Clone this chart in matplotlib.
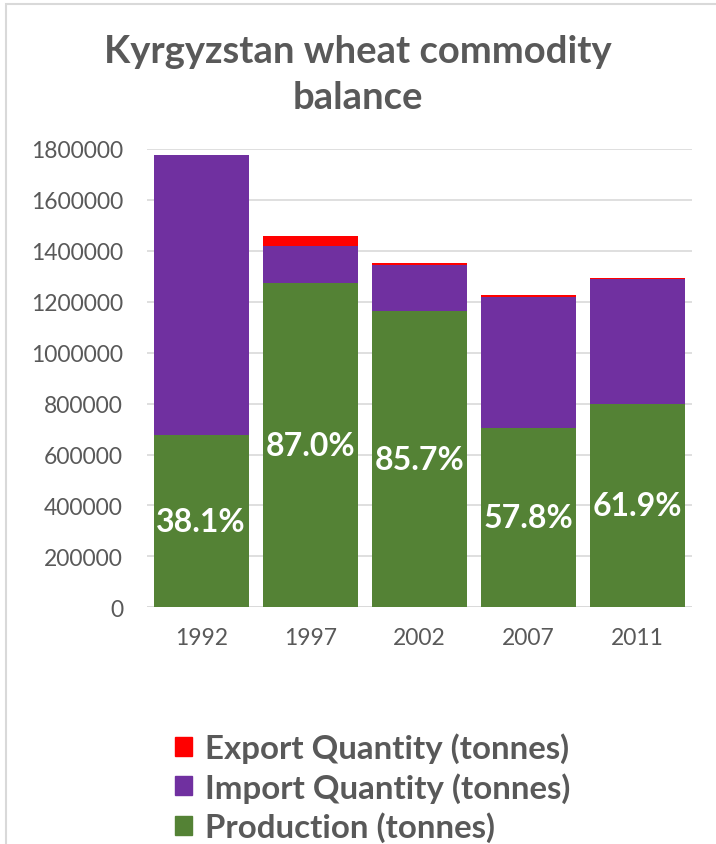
import matplotlib
matplotlib.use("Agg")
import matplotlib.pyplot as plt
from matplotlib.patches import Rectangle, Patch

years = ["1992", "1997", "2002", "2007", "2011"]
production = [676000, 1273000, 1163000, 706000, 797000]
imports = [1100000, 147000, 182000, 514000, 491000]
exports = [0, 40000, 9000, 6000, 6000]
pct_labels = ["38.1%", "87.0%", "85.7%", "57.8%", "61.9%"]
yticks = [0, 200000, 400000, 600000, 800000, 1000000, 1200000, 1400000, 1600000, 1800000]

GREEN = "#548235"
PURPLE = "#7030A0"
RED = "#FF0000"
GRAY = "#595959"

plt.rcParams["font.family"] = ["Lato", "DejaVu Sans"]

fig = plt.figure(figsize=(7.16, 8.45), dpi=100)
fig.patches.append(Rectangle((6 / 716, -0.1), 1.2, (845 - 5) / 845 + 0.1,
                             transform=fig.transFigure, fill=False,
                             edgecolor="#d9d9d9", linewidth=1.5))

ax = fig.add_axes([146.7 / 716, 1 - 608.3 / 845, 545 / 716, (608.3 - 150) / 845])
x = list(range(len(years)))
w = 0.87
ax.bar(x, production, width=w, color=GREEN, label="Production (tonnes)", zorder=3)
ax.bar(x, imports, width=w, bottom=production, color=PURPLE,
       label="Import Quantity (tonnes)", zorder=3)
bot2 = [p + i for p, i in zip(production, imports)]
ax.bar(x, exports, width=w, bottom=bot2, color=RED,
       label="Export Quantity (tonnes)", zorder=3)

for xi, p, lab in zip(x, production, pct_labels):
    ax.text(xi, p / 2, lab, ha="center", va="center", color="white",
            fontsize=23, fontweight="bold", zorder=4)

ax.set_xlim(-0.5, 4.5)
ax.set_ylim(0, 1800000)
ax.set_yticks(yticks)
ax.set_yticklabels([str(v) for v in yticks], fontsize=16.5, color=GRAY)
ax.set_xticks(x)
ax.set_xticklabels(years, fontsize=16.5, color=GRAY)
ax.tick_params(axis="both", length=0)
ax.tick_params(axis="y", pad=17)
ax.tick_params(axis="x", pad=14)
ax.grid(axis="y", color="#d9d9d9", linewidth=1.2, zorder=0)
for s in ax.spines.values():
    s.set_visible(False)
ax.axhline(0, color="#d9d9d9", linewidth=1.2, zorder=2)

fig.text(0.5, 1 - 75 / 845, "Kyrgyzstan wheat commodity\nbalance", ha="center",
         va="center", fontsize=27.5, fontweight="bold", color=GRAY, linespacing=1.4)

handles = [Patch(color=RED), Patch(color=PURPLE), Patch(color=GREEN)]
labels = ["Export Quantity (tonnes)", "Import Quantity (tonnes)", "Production (tonnes)"]
leg = fig.legend(handles, labels, loc="upper left", bbox_to_anchor=(162 / 716, 1 - 720 / 845),
                 frameon=False, borderaxespad=0, handlelength=0.5, handleheight=0.5,
                 handletextpad=0.4, labelspacing=0.27,
                 prop={"size": 23.8, "weight": "bold"})
for t in leg.get_texts():
    t.set_color(GRAY)

fig.savefig("out.png", dpi=100)
